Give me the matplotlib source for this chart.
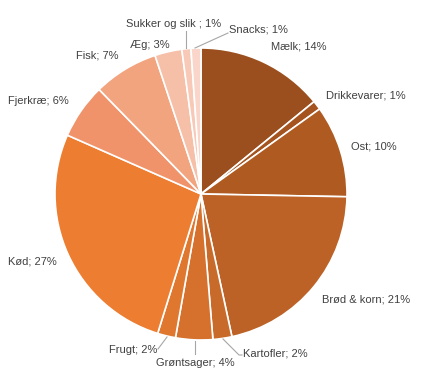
import matplotlib.pyplot as plt
import numpy as np

# Fødevaregrupper - andel i procent
kategorier = ["Mælk", "Drikkevarer", "Ost", "Brød & korn", "Kartofler", "Grøntsager",
              "Frugt", "Kød", "Fjerkræ", "Fisk", "Æg", "Sukker og slik ", "Snacks"]
andele = [14.1, 1.0, 10.2, 21.3, 2.1, 4.1, 2.0, 26.8, 6.1, 7.2, 3.0, 1.0, 1.1]
etiket_pct = [14, 1, 10, 21, 2, 4, 2, 27, 6, 7, 3, 1, 1]

renkler = ["#9C4F1E", "#A5531F", "#AE5A21", "#BC6226", "#C86A2A", "#D5712D",
           "#E0772F", "#ED7D31", "#F0936A", "#F2A47F", "#F5BFA8", "#F7C9B6", "#F9D6C9"]

# etiket-placering i pixel (x, y, justering) og evt. linje til kagen
etiket_pos = [(271, 47, "left"), (326, 96, "left"), (351, 147, "left"), (322, 300, "left"),
              (243, 353, "left"), (195, 363, "center"), (157, 350, "right"), (8, 262, "left"),
              (8, 101, "left"), (76, 56, "left"), (130, 45, "left"), (126, 24, "left"),
              (229, 30, "left")]
ledere = {4: [(223, 339), (239, 355), (242, 355)],
          5: [(195, 341), (195, 354)],
          6: [(167, 337), (158, 349)],
          11: [(186, 48), (186, 31)],
          12: [(195, 48), (228, 33)]}

CX, CY, R = 201, 194, 146
W, H = 426, 389


def px(x, y):
    return (x - CX) / R, (CY - y) / R


fig = plt.figure(figsize=(W / 100, H / 100), dpi=100)
ax = fig.add_axes([0, 0, 1, 1])
ax.pie(andele, colors=renkler, startangle=90, counterclock=False, radius=1,
       wedgeprops=dict(edgecolor="white", linewidth=1.2))
ax.set_xlim(-CX / R, (W - CX) / R)
ax.set_ylim((CY - H) / R, CY / R)
ax.set_aspect("equal")
ax.axis("off")

for i, navn in enumerate(kategorier):
    x, y, ha = etiket_pos[i]
    tx, ty = px(x, y)
    ax.text(tx, ty, f"{navn}; {etiket_pct[i]}%", ha=ha, va="center",
            fontsize=8, color="#404040", family="Liberation Sans")
    if i in ledere:
        pts = np.array([px(a, b) for a, b in ledere[i]])
        ax.plot(pts[:, 0], pts[:, 1], color="#A6A6A6", linewidth=0.8)

fig.savefig("out.png", dpi=100)
